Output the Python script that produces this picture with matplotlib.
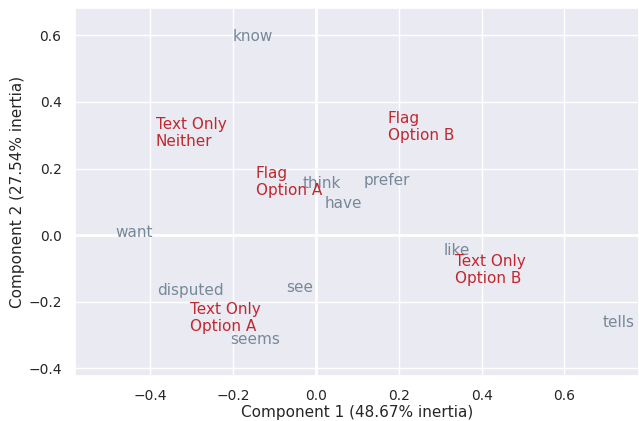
import matplotlib
matplotlib.use("Agg")
import matplotlib.pyplot as plt
import seaborn as sns

sns.set_theme(style="darkgrid")

# row points (red) and column points (gray)
row_labels = ["Text Only\nNeither", "Flag\nOption A", "Flag\nOption B",
              "Text Only\nOption A", "Text Only\nOption B"]
row_x = [-0.386, -0.145, 0.174, -0.304, 0.336]
row_y = [0.267, 0.120, 0.285, -0.288, -0.144]

col_labels = ["know", "think", "prefer", "have", "want", "disputed",
              "see", "seems", "like", "tells"]
col_x = [-0.200, -0.031, 0.116, 0.022, -0.483, -0.382, -0.072, -0.208, 0.309, 0.693]
col_y = [0.583, 0.141, 0.150, 0.081, -0.006, -0.180, -0.171, -0.327, -0.060, -0.276]

fig, ax = plt.subplots(figsize=(6.39, 4.21), dpi=100)

for lab, x, y in zip(col_labels, col_x, col_y):
    ax.text(x, y, lab, color="lightslategray", fontsize=11)
for lab, x, y in zip(row_labels, row_x, row_y):
    ax.text(x, y, lab, color="#c0282f", fontsize=11)

ax.axhline(0, color="white", lw=2, zorder=0.5)
ax.axvline(0, color="white", lw=2, zorder=0.5)

ax.set_xlim(-0.582, 0.78)
ax.set_ylim(-0.423, 0.682)
ax.set_xticks([-0.4, -0.2, 0.0, 0.2, 0.4, 0.6])
ax.set_yticks([-0.4, -0.2, 0.0, 0.2, 0.4, 0.6])
ax.tick_params(labelsize=10)
ax.set_xlabel("Component 1 (48.67% inertia)", fontsize=11, labelpad=1)
ax.set_ylabel("Component 2 (27.54% inertia)", fontsize=11, labelpad=2)

plt.subplots_adjust(left=0.117, right=1.0, top=0.981, bottom=0.107)
plt.savefig("out.png")
